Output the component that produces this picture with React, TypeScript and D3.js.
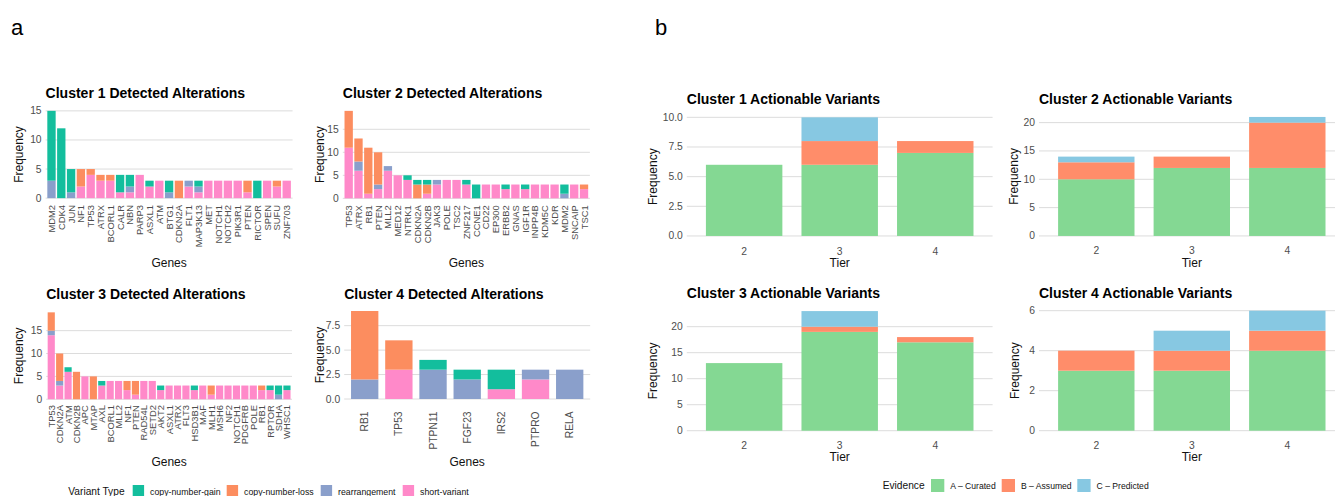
import React from "react";
import * as d3 from "d3";

// ---- panel a: detected alterations per cluster ----
const c1Genes = ["MDM2", "CDK4", "JUN", "NF1", "TP53", "ATRX", "BCORL1", "CALR", "NBN", "PARP3", "ASXL1", "ATM", "BTG1", "CDKN2A", "FLT1", "MAP3K13", "MET", "NOTCH1", "NOTCH2", "PIK3R1", "PTEN", "RICTOR", "SPEN", "SUFU", "ZNF703"];
const c1Gain = [12, 12, 4, 0, 0, 0, 0, 3, 2, 0, 1, 0, 2, 0, 0, 1, 0, 0, 0, 0, 0, 3, 0, 0, 0];
const c1Loss = [0, 0, 0, 3, 1, 1, 1, 0, 0, 0, 0, 0, 0, 3, 0, 0, 0, 0, 0, 0, 2, 0, 0, 1, 0];
const c1Rearr = [3, 0, 1, 0, 0, 0, 0, 0, 1, 0, 0, 0, 1, 0, 1, 1, 0, 0, 0, 0, 0, 0, 0, 0, 0];
const c1Short = [0, 0, 0, 2, 4, 3, 3, 1, 1, 4, 2, 3, 0, 0, 2, 1, 3, 3, 3, 3, 1, 0, 3, 2, 3];

const c2Genes = ["TP53", "ATRX", "RB1", "PTEN", "MLL2", "MED12", "NTRK1", "CDKN2A", "CDKN2B", "JAK3", "POLE", "TSC2", "ZNF217", "CCNE1", "CD22", "EP300", "ERBB2", "GNAS", "IGF1R", "INPP4B", "KDM5C", "KDR", "MDM2", "SNCAIP", "TSC1"];
const c2Gain = [0, 0, 0, 0, 0, 0, 1, 1, 1, 0, 0, 0, 1, 3, 0, 0, 1, 0, 1, 0, 0, 0, 2, 0, 0];
const c2Loss = [8, 5, 10, 7, 0, 0, 0, 3, 2, 0, 0, 0, 0, 0, 0, 0, 0, 0, 0, 0, 0, 0, 0, 0, 1];
const c2Rearr = [0, 2, 0, 1, 1, 0, 0, 0, 0, 1, 0, 0, 0, 0, 0, 0, 0, 0, 0, 0, 0, 0, 1, 0, 0];
const c2Short = [11, 6, 1, 2, 6, 5, 4, 0, 1, 3, 4, 4, 3, 0, 3, 3, 2, 3, 2, 3, 3, 3, 0, 3, 2];

const c3Genes = ["TP53", "CDKN2A", "ATM", "CDKN2B", "APC", "MTAP", "AXL", "BCORL1", "MLL2", "NF1", "PTEN", "RAD54L", "SETD2", "AKT2", "ASXL1", "ATRX", "FLT3", "HSD3B1", "MAF", "MLH1", "MSH6", "NF2", "NOTCH1", "PDGFRB", "POLE", "RB1", "RPTOR", "SDHA", "WHSC1"];
const c3Gain = [0, 0, 1, 0, 0, 0, 1, 0, 0, 0, 0, 0, 0, 1, 0, 0, 0, 1, 0, 0, 0, 0, 0, 0, 0, 0, 1, 2, 1];
const c3Loss = [4, 6, 0, 6, 0, 5, 0, 0, 0, 2, 3, 0, 0, 0, 0, 0, 0, 0, 0, 2, 0, 0, 0, 0, 0, 1, 0, 0, 0];
const c3Rearr = [1, 1, 0, 0, 0, 0, 0, 0, 0, 0, 0, 0, 0, 0, 0, 0, 0, 0, 0, 0, 0, 0, 0, 0, 0, 0, 0, 1, 0];
const c3Short = [14, 3, 6, 0, 5, 0, 3, 4, 4, 2, 1, 4, 4, 2, 3, 3, 3, 2, 3, 1, 3, 3, 3, 3, 3, 2, 2, 0, 2];

const c4Genes = ["RB1", "TP53", "PTPN11", "FGF23", "IRS2", "PTPRO", "RELA"];
const c4Gain = [0, 0, 1, 1, 2, 0, 0];
const c4Loss = [7, 3, 0, 0, 0, 0, 0];
const c4Rearr = [2, 0, 3, 2, 0, 1, 3];
const c4Short = [0, 3, 0, 0, 1, 2, 0];

const variantKeys = ["gain", "loss", "rearr", "short"];
const variantLabels = ["copy-number-gain", "copy-number-loss", "rearrangement", "short-variant"];
const variantColors = ["#13BE9D", "#FC8D5F", "#8A9FCB", "#FF89C9"];

// ---- panel b: actionable variants per tier ----
const tiers = ["2", "3", "4"];
const a1Curated = [6, 6, 7];
const a1Assumed = [0, 2, 1];
const a1Predicted = [0, 2, 0];
const a2Curated = [10, 12, 12];
const a2Assumed = [3, 2, 8];
const a2Predicted = [1, 0, 1];
const a3Curated = [13, 19, 17];
const a3Assumed = [0, 1, 1];
const a3Predicted = [0, 3, 0];
const a4Curated = [3, 3, 4];
const a4Assumed = [1, 1, 1];
const a4Predicted = [0, 1, 1];

const evidenceKeys = ["A", "B", "C"];
const evidenceLabels = ["A \u2013 Curated", "B \u2013 Assumed", "C \u2013 Predicted"];
const evidenceColors = ["#84D893", "#FF8D6A", "#87C8E2"];

const ticksA12 = [0, 5, 10, 15];
const ticksA4 = [0, 2.5, 5, 7.5];
const ticksB1 = [0, 2.5, 5, 7.5, 10];
const ticksB23 = [0, 5, 10, 15, 20];
const ticksB4 = [0, 2, 4, 6];

const FONT = "'Liberation Sans', Arial, Helvetica, sans-serif";
const GRID = "#DCDCDC";
const TICK = "#4D4D4D";

function StackPanel(props: any) {
  const { title, cats, keys, cols, colors, stackOrder, ticks, fmt, xTitle, cfg } = props;
  const { l, r, t, b, w } = cfg;
  const rows = cats.map((c: string, i: number) => {
    const row: any = { cat: c };
    keys.forEach((k: string, j: number) => (row[k] = cols[j][i]));
    return row;
  });
  const series = d3.stack<any>().keys(stackOrder)(rows);
  const max = d3.max(rows, (row: any) => d3.sum(keys, (k: string) => row[k])) as number;
  const x = d3.scaleBand().domain(cats).range([l, r]).paddingInner(1 - w).paddingOuter(0.6 - w / 2);
  const y = d3.scaleLinear().domain([-0.05 * max, 1.05 * max]).range([b, t]);
  const color = d3.scaleOrdinal<string, string>().domain(keys).range(colors);
  const f = d3.format(fmt);

  return (
    <g fontFamily={FONT}>
      <text x={l} y={cfg.titleY} fontSize={14} fontWeight="bold" fill="#000">{title}</text>
      {ticks.map((v: number) => (
        <g key={v}>
          <line x1={l} x2={r} y1={y(v)} y2={y(v)} stroke={GRID} strokeWidth={1} />
          <text x={l - 4} y={y(v)} textAnchor="end" dominantBaseline="central" fontSize={10.3} fill={TICK}>{f(v)}</text>
        </g>
      ))}
      {series.map((s: any) => (
        <g key={s.key} fill={color(s.key)}>
          {s.map((d: any) => (
            d[1] > d[0] ? (
              <rect key={d.data.cat} x={x(d.data.cat)} width={x.bandwidth()} y={y(d[1])} height={y(d[0]) - y(d[1])} />
            ) : null
          ))}
        </g>
      ))}
      {cats.map((c: string) => {
        const cx = (x(c) as number) + x.bandwidth() / 2;
        return cfg.rotate ? (
          <text key={c} transform={`translate(${cx},${b + cfg.gap}) rotate(-90)`} textAnchor="end" dominantBaseline="central" fontSize={cfg.fs} fill={TICK}>{c}</text>
        ) : (
          <text key={c} x={cx} y={cfg.labelY} textAnchor="middle" dominantBaseline="central" fontSize={cfg.fs} fill={TICK}>{c}</text>
        );
      })}
      <text transform={`translate(${cfg.yTitleX},${(t + b) / 2}) rotate(-90)`} textAnchor="middle" dominantBaseline="central" fontSize={12} fill="#111">Frequency</text>
      <text x={(l + r) / 2} y={cfg.xTitleY} textAnchor="middle" dominantBaseline="central" fontSize={12} fill="#111">{xTitle}</text>
    </g>
  );
}

const aOrder = ["short", "rearr", "loss", "gain"];
const bOrder = ["A", "B", "C"];

export default function App() {
  return (
    <svg width={1335} height={496} style={{ position: "absolute", left: 0, top: 0, background: "#fff" }}>
      <rect width={1335} height={496} fill="#fff" />
      <text x={11} y={35} fontFamily={FONT} fontSize={22}>a</text>
      <text x={655} y={35} fontFamily={FONT} fontSize={22}>b</text>

      <StackPanel title="Cluster 1 Detected Alterations" cats={c1Genes} keys={variantKeys}
        cols={[c1Gain, c1Loss, c1Rearr, c1Short]} colors={variantColors} stackOrder={aOrder}
        ticks={ticksA12} fmt="d" xTitle="Genes"
        cfg={{ l: 45.6, r: 292.6, t: 106.5, b: 202.5, w: 0.85, titleY: 98, rotate: true, gap: 2.5, fs: 9.4, yTitleX: 19, xTitleY: 263 }} />
      <StackPanel title="Cluster 2 Detected Alterations" cats={c2Genes} keys={variantKeys}
        cols={[c2Gain, c2Loss, c2Rearr, c2Short]} colors={variantColors} stackOrder={aOrder}
        ticks={ticksA12} fmt="d" xTitle="Genes"
        cfg={{ l: 342.8, r: 589.9, t: 106.5, b: 202.7, w: 0.85, titleY: 98, rotate: true, gap: 2.5, fs: 9.4, yTitleX: 320, xTitleY: 263 }} />
      <StackPanel title="Cluster 3 Detected Alterations" cats={c3Genes} keys={variantKeys}
        cols={[c3Gain, c3Loss, c3Rearr, c3Short]} colors={variantColors} stackOrder={aOrder}
        ticks={ticksA12} fmt="d" xTitle="Genes"
        cfg={{ l: 46.2, r: 292, t: 308, b: 403.6, w: 0.85, titleY: 298.5, rotate: true, gap: 1.5, fs: 9.4, yTitleX: 19, xTitleY: 462 }} />
      <StackPanel title="Cluster 4 Detected Alterations" cats={c4Genes} keys={variantKeys}
        cols={[c4Gain, c4Loss, c4Rearr, c4Short]} colors={variantColors} stackOrder={aOrder}
        ticks={ticksA4} fmt=".1f" xTitle="Genes"
        cfg={{ l: 344.2, r: 590.2, t: 306.6, b: 403.4, w: 0.8, titleY: 298.5, rotate: true, gap: 8, fs: 10.3, yTitleX: 320, xTitleY: 462 }} />

      <StackPanel title="Cluster 1 Actionable Variants" cats={tiers} keys={evidenceKeys}
        cols={[a1Curated, a1Assumed, a1Predicted]} colors={evidenceColors} stackOrder={bOrder}
        ticks={ticksB1} fmt=".1f" xTitle="Tier"
        cfg={{ l: 686.8, r: 992.6, t: 111.4, b: 241.9, w: 0.8, titleY: 104, rotate: false, labelY: 251.7, fs: 10.3, yTitleX: 653, xTitleY: 263.3 }} />
      <StackPanel title="Cluster 2 Actionable Variants" cats={tiers} keys={evidenceKeys}
        cols={[a2Curated, a2Assumed, a2Predicted]} colors={evidenceColors} stackOrder={bOrder}
        ticks={ticksB23} fmt="d" xTitle="Tier"
        cfg={{ l: 1039, r: 1344.6, t: 111, b: 241.9, w: 0.8, titleY: 104, rotate: false, labelY: 250.5, fs: 10.3, yTitleX: 1014, xTitleY: 263.3 }} />
      <StackPanel title="Cluster 3 Actionable Variants" cats={tiers} keys={evidenceKeys}
        cols={[a3Curated, a3Assumed, a3Predicted]} colors={evidenceColors} stackOrder={bOrder}
        ticks={ticksB23} fmt="d" xTitle="Tier"
        cfg={{ l: 686.8, r: 992.6, t: 305.1, b: 436.7, w: 0.8, titleY: 298, rotate: false, labelY: 445, fs: 10.3, yTitleX: 653, xTitleY: 456.7 }} />
      <StackPanel title="Cluster 4 Actionable Variants" cats={tiers} keys={evidenceKeys}
        cols={[a4Curated, a4Assumed, a4Predicted]} colors={evidenceColors} stackOrder={bOrder}
        ticks={ticksB4} fmt="d" xTitle="Tier"
        cfg={{ l: 1039, r: 1344.6, t: 304.7, b: 436.7, w: 0.8, titleY: 298, rotate: false, labelY: 445, fs: 10.3, yTitleX: 1015, xTitleY: 456.7 }} />

      {/* legend a */}
      <g fontFamily={FONT}>
        <text x={68.3} y={495.3} fontSize={10.2} fill="#111">Variant Type</text>
        {variantLabels.map((lab, i) => {
          const kx = [132.7, 226.7, 320.7, 402.7][i];
          return (
            <g key={lab}>
              <rect x={kx} y={485} width={11.4} height={13} fill={variantColors[i]} />
              <text x={kx + 17.4} y={494.7} fontSize={8.75} fill="#111">{lab}</text>
            </g>
          );
        })}
      </g>

      {/* legend b */}
      <g fontFamily={FONT}>
        <text x={882.7} y={489.3} fontSize={10.2} fill="#111">Evidence</text>
        {evidenceLabels.map((lab, i) => {
          const kx = [931, 1001.7, 1077.3][i];
          return (
            <g key={lab}>
              <rect x={kx} y={479} width={13.3} height={13} fill={evidenceColors[i]} />
              <text x={kx + 19.3} y={488.6} fontSize={8.6} fill="#111">{lab}</text>
            </g>
          );
        })}
      </g>
    </svg>
  );
}
